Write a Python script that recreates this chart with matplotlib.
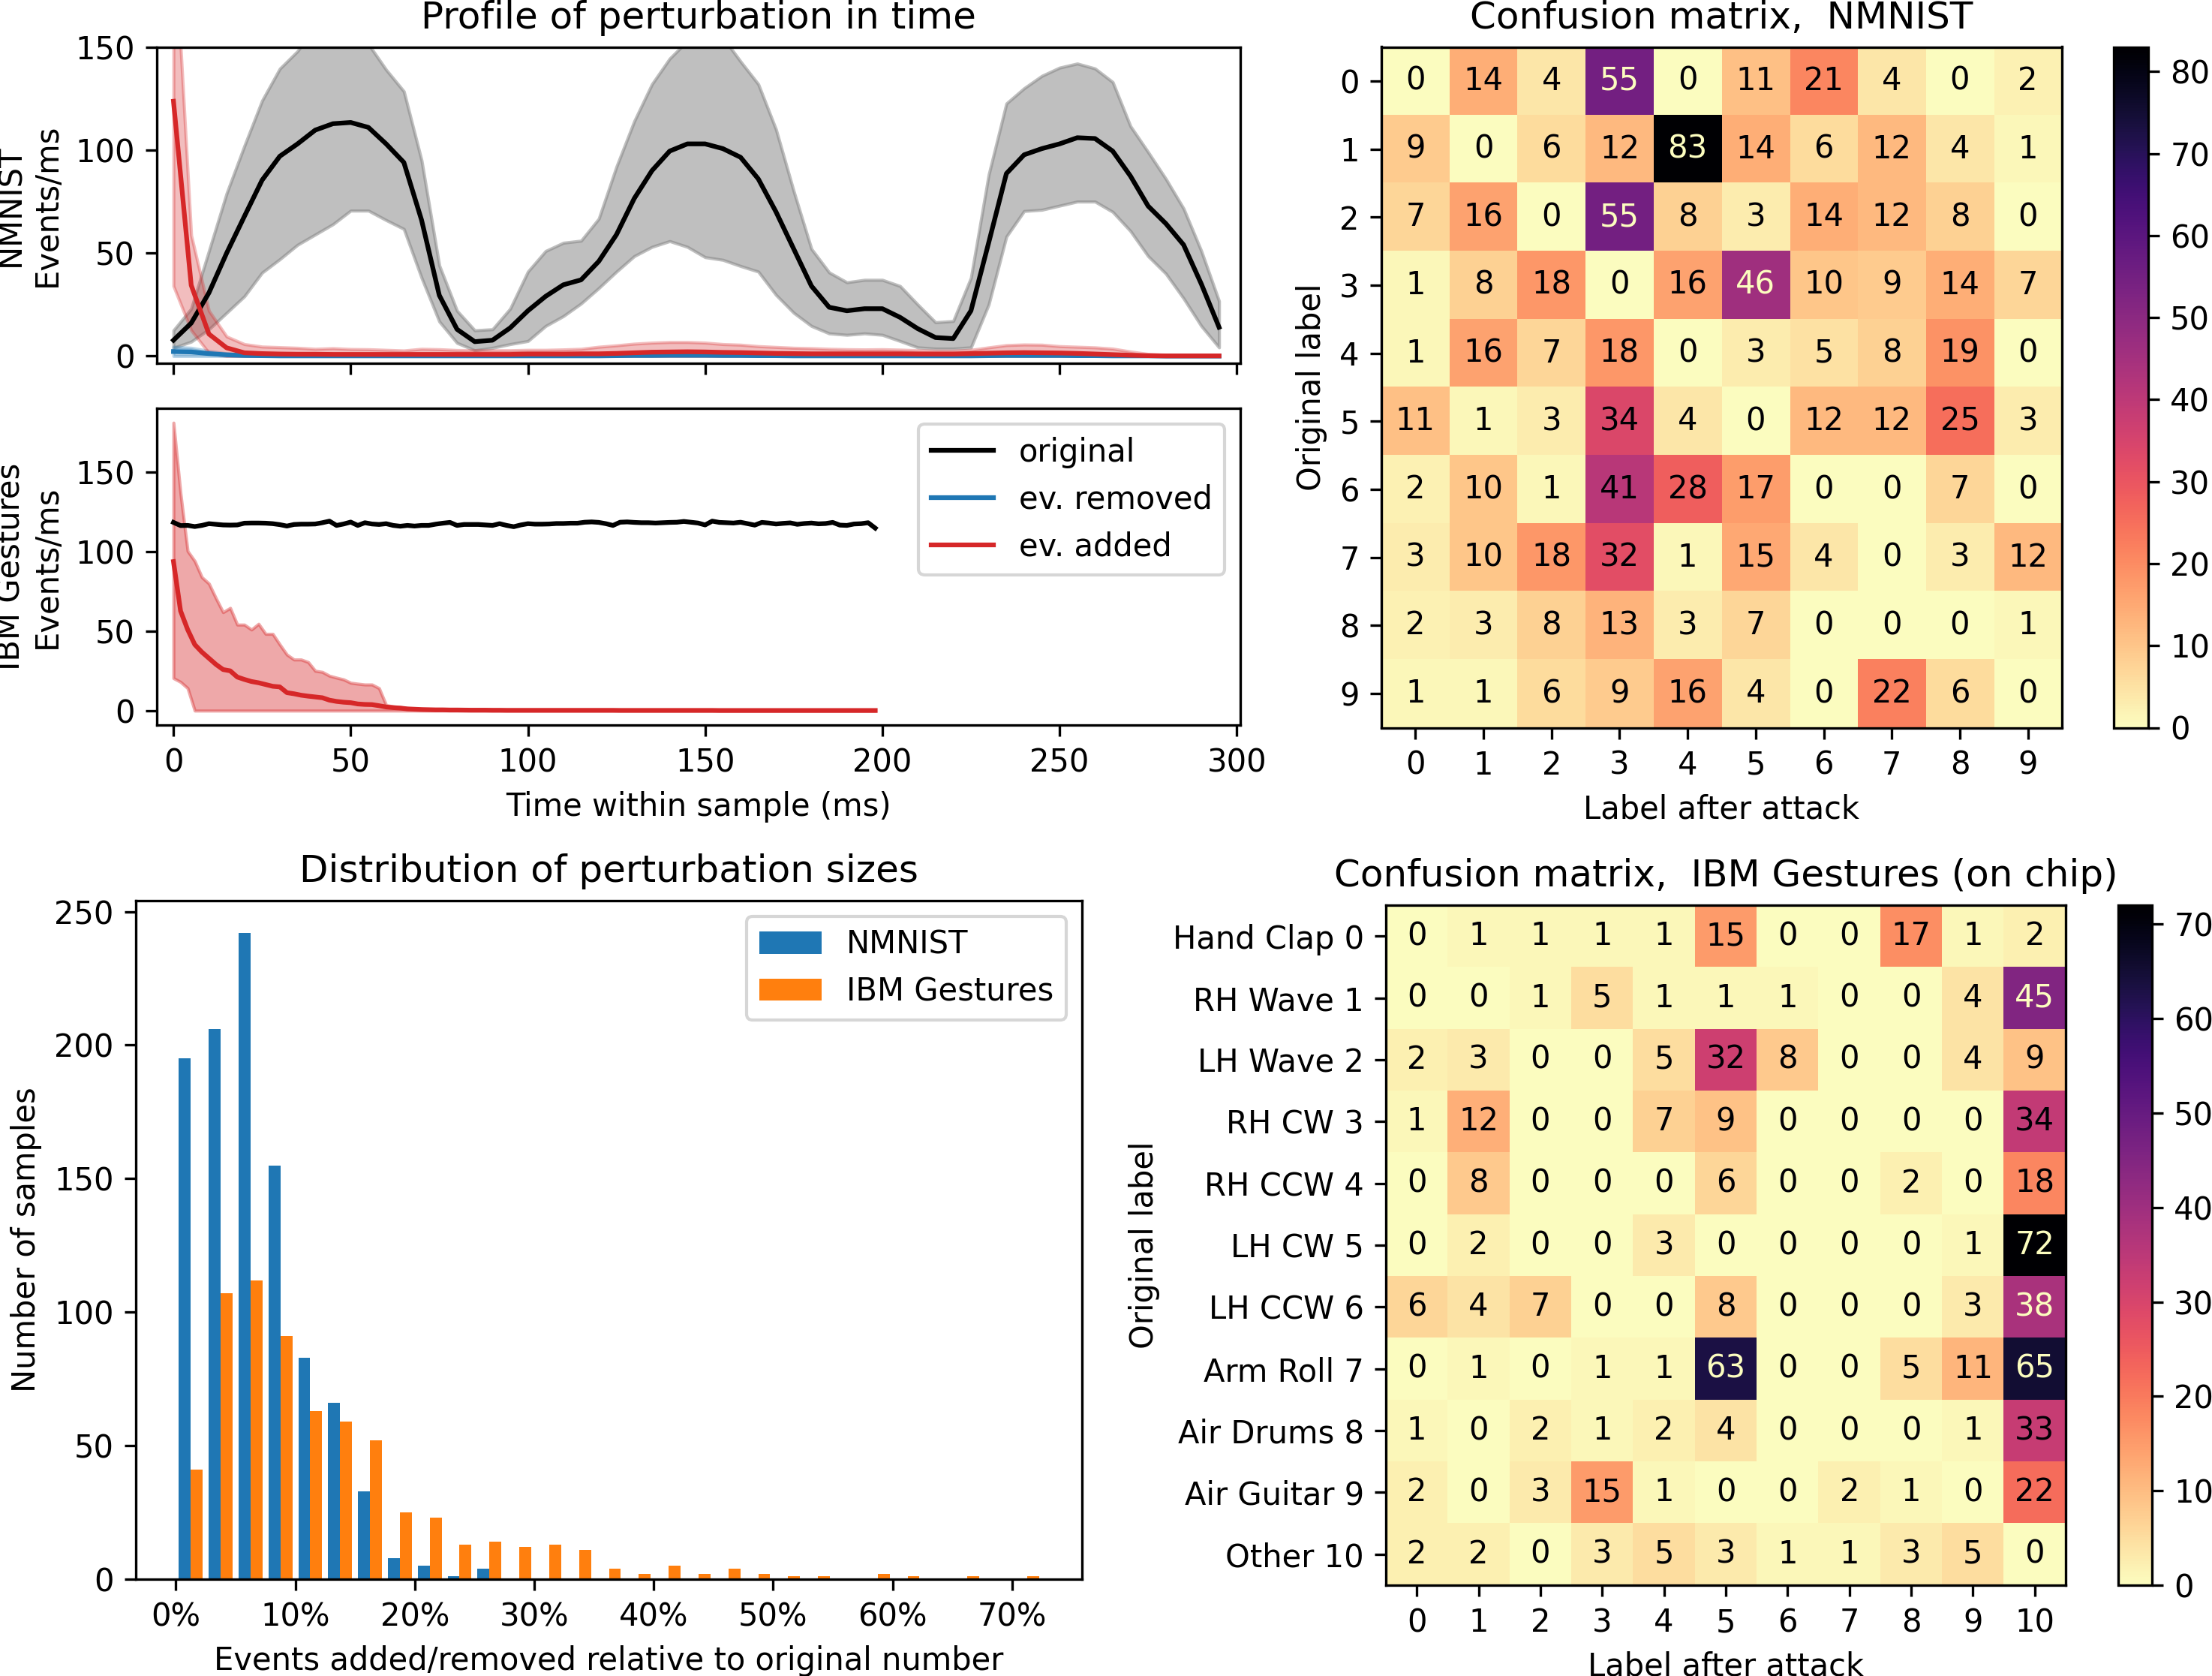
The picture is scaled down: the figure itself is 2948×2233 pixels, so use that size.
import numpy as np
import matplotlib
matplotlib.use("Agg")
import matplotlib.pyplot as plt
from matplotlib.ticker import PercentFormatter

# ---------------- data: temporal profile, NMNIST (every 5 ms) ----------------
nm_time = np.arange(0, 300, 5)
nm_orig = [7.7, 16, 30.7, 50, 67.8, 85.4, 97, 103, 109.7, 112.8,
           113.4, 111, 103, 94, 66, 29.5, 13, 7, 7.7, 13.7,
           22, 29, 34.6, 37, 46, 59, 76.5, 90, 99.5, 103,
           103, 100.7, 96.5, 86, 70, 52, 34, 23.7, 22, 23,
           23, 18.8, 13.3, 9, 8.5, 22, 55, 88.6, 97.7, 100.7,
           103, 106, 105.6, 99.5, 87.4, 72.8, 64.3, 54, 35, 14]
nm_orig_hi = [12.5, 23, 51, 79, 102, 124, 139.5, 148, 160, 161.6,
              156.2, 151.4, 139, 128.5, 95, 44, 22, 12.5, 13, 23,
              41, 51, 55, 56, 66.7, 92, 114, 132, 144.4, 153,
              158, 154.7, 143, 132, 110, 80, 52, 40.6, 35.8, 37,
              37, 34, 25, 16.4, 17, 38, 88, 122.6, 130, 136,
              140, 142, 139.6, 133, 111.6, 99, 86, 71.6, 51, 26.7]
nm_orig_lo = [4, 7, 13, 21, 29, 40.5, 47, 54, 59, 64,
              70.6, 70.6, 66, 61.7, 38, 16.8, 6.4, 2.8, 4, 5.8,
              7.3, 14.6, 19.4, 25.5, 33, 41, 48.5, 53, 55.8, 53,
              48, 46.7, 43.7, 41, 29.7, 21, 14.6, 11, 10.3, 11,
              10.3, 7.3, 4.2, 3.6, 3.6, 4.2, 25, 58, 70.4, 71,
              73, 75, 75, 70, 60.7, 48.5, 40, 28, 14.6, 4.2]
nm_rem = [2.2, 2.0, 1.2, 0.6, 0.3, 0.2, 0.1, 0.1, 0.1, 0.1,
          0.1, 0.1, 0.1, 0.1, 0.1, 0.1, 0.1, 0.1, 0.1, 0.1,
          0.1, 0.1, 0.1, 0.1, 0.1, 0.2, 0.3, 0.3, 0.4, 0.4,
          0.4, 0.3, 0.3, 0.2, 0.2, 0.1, 0.1, 0.1, 0.1, 0.1,
          0.1, 0.1, 0.1, 0.1, 0.1, 0.1, 0.2, 0.3, 0.3, 0.3,
          0.3, 0.2, 0.2, 0.1, 0.1, 0.1, 0.0, 0.0, 0.0, 0.0]
nm_rem_hi = [4.5, 4.0, 2.5, 1.3, 0.8, 0.5, 0.3, 0.3, 0.3, 0.3,
             0.3, 0.3, 0.3, 0.3, 0.3, 0.3, 0.3, 0.3, 0.3, 0.3,
             0.3, 0.3, 0.3, 0.3, 0.4, 0.5, 0.7, 0.8, 0.9, 0.9,
             0.9, 0.8, 0.7, 0.5, 0.4, 0.3, 0.3, 0.3, 0.3, 0.3,
             0.3, 0.3, 0.3, 0.3, 0.3, 0.3, 0.5, 0.7, 0.7, 0.7,
             0.6, 0.5, 0.4, 0.3, 0.2, 0.2, 0.1, 0.1, 0.1, 0.1]
nm_rem_lo = [0.0, 0.0, 0.0, 0.0, 0.0, 0.0, 0.0, 0.0, 0.0, 0.0,
             0.0, 0.0, 0.0, 0.0, 0.0, 0.0, 0.0, 0.0, 0.0, 0.0,
             0.0, 0.0, 0.0, 0.0, 0.0, 0.0, 0.0, 0.0, 0.0, 0.0,
             0.0, 0.0, 0.0, 0.0, 0.0, 0.0, 0.0, 0.0, 0.0, 0.0,
             0.0, 0.0, 0.0, 0.0, 0.0, 0.0, 0.0, 0.0, 0.0, 0.0,
             0.0, 0.0, 0.0, 0.0, 0.0, 0.0, 0.0, 0.0, 0.0, 0.0]
nm_add = [123.7, 34.4, 10.7, 4.0, 1.6, 1.2, 1.0, 0.9, 0.9, 0.8,
          0.8, 0.8, 0.8, 0.8, 0.8, 0.8, 0.8, 0.8, 0.8, 0.8,
          1.0, 1.0, 1.0, 1.1, 1.1, 1.3, 1.6, 1.9, 2.0, 2.1,
          2.0, 1.8, 1.7, 1.5, 1.3, 1.2, 1.1, 1.1, 1.1, 1.1,
          1.1, 1.1, 1.0, 1.0, 1.0, 1.2, 1.4, 1.6, 1.7, 1.6,
          1.5, 1.3, 1.0, 0.7, 0.4, 0.2, 0.1, 0.1, 0.1, 0.1]
nm_add_hi = [212, 58.7, 22, 9.5, 5.8, 4.6, 4.3, 4.0, 3.5, 3.8,
             3.4, 3.3, 3.0, 2.7, 3.5, 3.3, 2.9, 2.8, 2.8, 2.8,
             3.0, 3.0, 3.2, 3.5, 4.5, 5.2, 6.0, 6.5, 6.8, 6.8,
             6.5, 5.8, 5.5, 4.8, 4.4, 4.0, 3.8, 3.5, 3.3, 3.2,
             3.3, 3.1, 2.8, 2.6, 2.6, 3.0, 4.2, 5.3, 5.6, 5.5,
             4.8, 4.5, 4.2, 3.6, 2.2, 1.0, 0.5, 0.3, 0.2, 0.2]
nm_add_lo = [34, 12.5, 1.5, 0.0, 0.0, 0.0, 0.0, 0.0, 0.0, 0.0,
             0.0, 0.0, 0.0, 0.0, 0.0, 0.0, 0.0, 0.0, 0.0, 0.0,
             0.0, 0.0, 0.0, 0.0, 0.0, 0.0, 0.0, 0.0, 0.0, 0.0,
             0.0, 0.0, 0.0, 0.0, 0.0, 0.0, 0.0, 0.0, 0.0, 0.0,
             0.0, 0.0, 0.0, 0.0, 0.0, 0.0, 0.0, 0.0, 0.0, 0.0,
             0.0, 0.0, 0.0, 0.0, 0.0, 0.0, 0.0, 0.0, 0.0, 0.0]

# ---------------- data: temporal profile, IBM Gestures (every 2 ms) ----------------
ibm_time = np.arange(0, 200, 2)
ibm_orig = [118.2, 116.2, 116.3, 115.6, 116.3, 117.4, 117.0, 116.6, 116.5, 116.6,
            117.7, 117.8, 117.8, 117.7, 117.4, 116.8, 115.9, 116.9, 117.1, 117.1,
            117.2, 118.0, 119.0, 116.3, 117.2, 118.4, 116.3, 118.0, 117.2, 116.9,
            117.4, 116.3, 115.8, 116.3, 115.9, 116.3, 116.3, 117.1, 117.7, 118.2,
            116.3, 116.9, 116.9, 116.9, 116.6, 116.3, 117.4, 116.3, 115.5, 116.6,
            117.4, 117.1, 117.1, 117.2, 117.5, 117.5, 117.7, 117.7, 118.3, 118.5,
            118.2, 117.4, 116.3, 118.3, 118.5, 118.2, 118.0, 118.0, 117.8, 118.0,
            118.2, 118.3, 118.8, 118.3, 117.8, 116.6, 119.0, 118.2, 118.0, 117.8,
            118.3, 117.4, 116.5, 118.2, 117.8, 117.2, 117.6, 117.9, 117.0, 117.5,
            117.8, 117.3, 117.5, 118.2, 116.5, 116.3, 117.2, 117.4, 118.0, 114.6]
# removed-events trace is not visible for IBM Gestures (only its legend entry)
ibm_rem_time = []
ibm_rem = []
ibm_add = [93.6, 62.6, 50.9, 41.5, 36.8, 32.9, 29.0, 25.8, 25.0, 21.1,
           19.6, 18.3, 17.5, 16.4, 15.3, 14.9, 11.3, 10.6, 9.7, 9.1,
           8.6, 8.1, 6.6, 5.8, 5.3, 5.0, 4.2, 3.9, 3.8, 3.1,
           2.3, 1.9, 1.6, 1.1, 0.9, 0.7, 0.6, 0.5, 0.5, 0.4,
           0.4, 0.35, 0.3, 0.3, 0.3, 0.25, 0.25, 0.2, 0.2, 0.2,
           0.2, 0.2, 0.2, 0.2, 0.2, 0.2, 0.2, 0.2, 0.2, 0.2,
           0.2, 0.2, 0.2, 0.15, 0.15, 0.15, 0.15, 0.15, 0.15, 0.15,
           0.15, 0.15, 0.15, 0.15, 0.15, 0.15, 0.15, 0.1, 0.1, 0.1,
           0.1, 0.1, 0.1, 0.1, 0.1, 0.1, 0.1, 0.1, 0.1, 0.1,
           0.1, 0.1, 0.1, 0.1, 0.1, 0.1, 0.1, 0.1, 0.1, 0.1]
ibm_add_hi = [180.8, 136.2, 100.2, 93.9, 83.8, 79.8, 70.5, 61.8, 64.5, 54.0,
              54.0, 50.9, 54.5, 48.2, 48.2, 41.5, 35.2, 32.1, 32.1, 30.5,
              25.0, 24.3, 21.9, 20.7, 19.6, 17.5, 16.9, 16.4, 16.4, 14.1,
              3.5, 2.6, 2.2, 1.6, 1.3, 1.1, 0.9, 0.8, 0.8, 0.7,
              0.7, 0.6, 0.5, 0.5, 0.5, 0.4, 0.4, 0.4, 0.3, 0.3,
              0.3, 0.3, 0.3, 0.3, 0.3, 0.3, 0.3, 0.3, 0.3, 0.3,
              0.3, 0.3, 0.3, 0.3, 0.3, 0.3, 0.3, 0.3, 0.3, 0.3,
              0.3, 0.3, 0.3, 0.3, 0.3, 0.3, 0.3, 0.3, 0.3, 0.3,
              0.3, 0.3, 0.3, 0.3, 0.3, 0.3, 0.3, 0.3, 0.3, 0.3,
              0.3, 0.3, 0.3, 0.3, 0.3, 0.3, 0.3, 0.3, 0.3, 0.3]
ibm_add_lo = [20.4, 18.0, 14.1] + [0.0] * 97

# ---------------- data: histogram of perturbation sizes ----------------
hist_edges = np.linspace(0.0, 0.725, 30)
hist_nmnist = [195, 206, 242, 155, 83, 66, 33, 8, 5, 1,
               4, 0, 0, 0, 0, 0, 0, 0, 0, 0,
               0, 0, 0, 0, 0, 0, 0, 0, 0]
hist_ibm = [41, 107, 112, 91, 63, 59, 52, 25, 23, 13,
            14, 12, 13, 11, 4, 2, 5, 2, 4, 2,
            1, 1, 0, 2, 1, 0, 1, 0, 1]

# ---------------- data: confusion matrices ----------------
cm_nmnist = np.array([
    [0, 14, 4, 55, 0, 11, 21, 4, 0, 2],
    [9, 0, 6, 12, 83, 14, 6, 12, 4, 1],
    [7, 16, 0, 55, 8, 3, 14, 12, 8, 0],
    [1, 8, 18, 0, 16, 46, 10, 9, 14, 7],
    [1, 16, 7, 18, 0, 3, 5, 8, 19, 0],
    [11, 1, 3, 34, 4, 0, 12, 12, 25, 3],
    [2, 10, 1, 41, 28, 17, 0, 0, 7, 0],
    [3, 10, 18, 32, 1, 15, 4, 0, 3, 12],
    [2, 3, 8, 13, 3, 7, 0, 0, 0, 1],
    [1, 1, 6, 9, 16, 4, 0, 22, 6, 0],
])
nmnist_labels = ["0", "1", "2", "3", "4", "5", "6", "7", "8", "9"]

cm_ibm = np.array([
    [0, 1, 1, 1, 1, 15, 0, 0, 17, 1, 2],
    [0, 0, 1, 5, 1, 1, 1, 0, 0, 4, 45],
    [2, 3, 0, 0, 5, 32, 8, 0, 0, 4, 9],
    [1, 12, 0, 0, 7, 9, 0, 0, 0, 0, 34],
    [0, 8, 0, 0, 0, 6, 0, 0, 2, 0, 18],
    [0, 2, 0, 0, 3, 0, 0, 0, 0, 1, 72],
    [6, 4, 7, 0, 0, 8, 0, 0, 0, 3, 38],
    [0, 1, 0, 1, 1, 63, 0, 0, 5, 11, 65],
    [1, 0, 2, 1, 2, 4, 0, 0, 0, 1, 33],
    [2, 0, 3, 15, 1, 0, 0, 2, 1, 0, 22],
    [2, 2, 0, 3, 5, 3, 1, 1, 3, 5, 0],
])
ibm_xlabels = ["0", "1", "2", "3", "4", "5", "6", "7", "8", "9", "10"]
ibm_ylabels = ["Hand Clap 0", "RH Wave 1", "LH Wave 2", "RH CW 3", "RH CCW 4",
               "LH CW 5", "LH CCW 6", "Arm Roll 7", "Air Drums 8",
               "Air Guitar 9", "Other 10"]

# ---------------- figure ----------------
W, H = 2948, 2233
fig = plt.figure(figsize=(W / 300, H / 300), dpi=300)


def rect(left, top, right, bottom):
    return [left / W, 1 - bottom / H, (right - left) / W, (bottom - top) / H]


ax1 = fig.add_axes(rect(209, 62.7, 1653, 484.3))
ax2 = fig.add_axes(rect(209, 544, 1653, 966), sharex=ax1)

# NMNIST profile
ax1.plot(nm_time, nm_orig, color="black", label="original")
ax1.fill_between(nm_time, nm_orig_lo, nm_orig_hi, color="gray", alpha=0.5)
ax1.plot(nm_time, nm_rem, color="tab:blue", label="ev. removed")
ax1.fill_between(nm_time, nm_rem_lo, nm_rem_hi, color="tab:blue", alpha=0.3)
ax1.plot(nm_time, nm_add, color="tab:red", label="ev. added")
ax1.fill_between(nm_time, nm_add_lo, nm_add_hi, color="tab:red", alpha=0.3)
ax1.set_ylim(-3.6, 150)
ax1.set_ylabel("NMNIST\nEvents/ms")
ax1.set_title("Profile of perturbation in time")
ax1.tick_params(labelbottom=False)

# IBM profile
ax2.plot(ibm_time, ibm_orig, color="black", label="original")
ax2.plot(ibm_rem_time, ibm_rem, color="tab:blue", label="ev. removed")
ax2.plot(ibm_time, ibm_add, color="tab:red", label="ev. added")
ax2.fill_between(ibm_time, ibm_add_lo, ibm_add_hi, color="tab:red", alpha=0.4)
ax2.set_ylabel("IBM Gestures\nEvents/ms")
ax2.set_xlabel("Time within sample (ms)")
ax2.legend(loc="upper right")
ax2.set_xlim(-4.7, 301)
ax2.set_xticks([0, 50, 100, 150, 200, 250, 300])

# Histogram
ax3 = fig.add_axes(rect(181, 1200, 1442, 2104))
centers = (hist_edges[:-1] + hist_edges[1:]) / 2
ax3.hist([centers, centers], bins=hist_edges, weights=[hist_nmnist, hist_ibm],
         color=["tab:blue", "tab:orange"], label=["NMNIST", "IBM Gestures"])
ax3.xaxis.set_major_formatter(PercentFormatter(1.0, decimals=0))
ax3.set_title("Distribution of perturbation sizes")
ax3.set_ylabel("Number of samples")
ax3.set_xlabel("Events added/removed relative to original number")
ax3.legend(loc="upper right")


def draw_cm(ax, cax, cm, xlabels, ylabels, title):
    im = ax.imshow(cm, cmap="magma_r", interpolation="nearest")
    cmap = im.cmap
    c_lo, c_hi = cmap(0.0), cmap(1.0)
    thresh = (cm.max() + cm.min()) / 2.0
    n = cm.shape[0]
    for i in range(n):
        for j in range(cm.shape[1]):
            ax.text(j, i, format(cm[i, j], "d"), ha="center", va="center",
                    color=c_hi if cm[i, j] < thresh else c_lo)
    fig.colorbar(im, cax=cax)
    ax.set_xticks(np.arange(cm.shape[1]))
    ax.set_xticklabels(xlabels)
    ax.set_yticks(np.arange(n))
    ax.set_yticklabels(ylabels)
    ax.set_xlabel("Label after attack")
    ax.set_ylabel("Original label")
    ax.set_title(title)


ax4 = fig.add_axes(rect(1841, 62.5, 2748, 969.5))
cax4 = fig.add_axes(rect(2817, 62.5, 2863, 969.5))
draw_cm(ax4, cax4, cm_nmnist, nmnist_labels, nmnist_labels, "Confusion matrix,  NMNIST")

ax5 = fig.add_axes(rect(1847, 1206, 2753, 2112))
cax5 = fig.add_axes(rect(2823, 1206, 2868, 2112))
draw_cm(ax5, cax5, cm_ibm, ibm_xlabels, ibm_ylabels,
        "Confusion matrix,  IBM Gestures (on chip)")

fig.savefig("out.png", dpi=300)
